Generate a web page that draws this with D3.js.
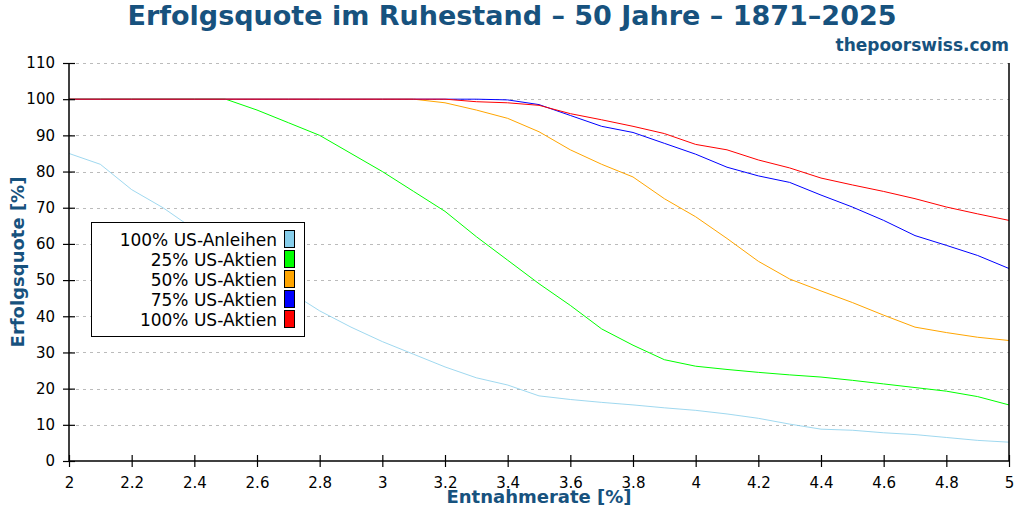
<!DOCTYPE html>
<html><head><meta charset="utf-8">
<script src="https://cdn.jsdelivr.net/npm/d3@7"></script>
<style>body{margin:0;background:#fff}svg{font-family:"DejaVu Sans",sans-serif}</style>
</head><body><svg></svg>
<script>
let rates = d3.range(31).map(i => +(2 + i * 0.1).toFixed(1))
let bonds = [85,82,75,70,64,58,52,47,41.5,37,33,29.5,26,23,21,18,17,16.2,15.5,14.7,14,13,11.8,10.2,8.8,8.5,7.8,7.3,6.5,5.7,5.2]
let stocks25 = [100,100,100,100,100,100,97,93.5,90,85,80,74.5,69,62,55.5,49,43,36.5,32,28,26.2,25.3,24.5,23.8,23.2,22.3,21.3,20.3,19.3,17.8,15.5]
let stocks50 = [100,100,100,100,100,100,100,100,100,100,100,100,99,97,94.7,91,86,82,78.5,72.5,67.5,61.5,55.2,50.3,47,43.8,40.3,37,35.5,34.2,33.3]
let stocks75 = [100,100,100,100,100,100,100,100,100,100,100,100,100,100,99.8,98.5,95.5,92.5,90.8,87.8,84.8,81.2,78.8,77,73.5,70.2,66.5,62.3,59.6,56.8,53.2]
let stocks100 = [100,100,100,100,100,100,100,100,100,100,100,100,100,99.3,99,98.3,96,94.3,92.5,90.5,87.5,86,83.2,81,78.2,76.3,74.5,72.5,70.2,68.3,66.5]
let names = ['100% US-Anleihen','25% US-Aktien','50% US-Aktien','75% US-Aktien','100% US-Aktien']
let colors = ['#87ceeb','#00ff00','#ffa500','#0000ff','#ff0000']
let series = [bonds, stocks25, stocks50, stocks75, stocks100]
let xTicks = [2,2.2,2.4,2.6,2.8,3,3.2,3.4,3.6,3.8,4,4.2,4.4,4.6,4.8,5]
let yTicks = d3.range(0, 111, 10)

let width = 1024, height = 512
let padLeft = 69, padRight = 1009, padTop = 63, padBottom = 461
let svg = d3.select('svg').attr('width', width).attr('height', height)

let xScale = d3.scaleLinear().domain([2, 5]).range([padLeft, padRight])
let yScale = d3.scaleLinear().domain([0, 110]).range([padBottom, padTop])

//grid
svg.append('g').selectAll('line').data(yTicks.slice(1)).enter().append('line')
    .attr('x1', padLeft).attr('x2', padRight)
    .attr('y1', d => Math.round(yScale(d)) + 0.5).attr('y2', d => Math.round(yScale(d)) + 0.5)
    .attr('stroke', '#bbb').attr('stroke-dasharray', '3,4')

//lines
let line = d3.line().x((d, i) => xScale(rates[i])).y(d => yScale(d))
series.forEach((s, k) => {
    svg.append('path').datum(s).attr('d', line)
        .attr('fill', 'none').attr('stroke', colors[k]).attr('stroke-width', k == 0 ? 0.8 : 1)
})

//axes
let xAxis = d3.axisBottom(xScale).tickValues(xTicks).tickSize(6).tickPadding(10).tickFormat(d3.format('~g'))
let yAxis = d3.axisLeft(yScale).tickValues(yTicks).tickSize(6).tickPadding(8)
let gx = svg.append('g').attr('transform', 'translate(0,' + padBottom + ')').call(xAxis)
let gy = svg.append('g').attr('transform', 'translate(' + padLeft + ',0)').call(yAxis)
;[gx, gy].forEach(g => {
    g.select('.domain').remove()
    g.selectAll('text').attr('font-size', 15).attr('fill', '#000').attr('font-family', 'DejaVu Sans')
    g.selectAll('line').attr('stroke', '#000').attr('stroke-width', 1.2)
})
gx.selectAll('.tick line').attr('y2', 6).attr('y1', -6)
gy.selectAll('.tick line').attr('x2', 6).attr('x1', -6)
svg.append('line').attr('x1', padLeft).attr('x2', padRight).attr('y1', padBottom).attr('y2', padBottom).attr('stroke', '#000').attr('stroke-width', 1.5)
svg.append('line').attr('x1', padLeft).attr('x2', padLeft).attr('y1', padTop).attr('y2', padBottom).attr('stroke', '#000').attr('stroke-width', 1.5)
svg.append('line').attr('x1', padRight).attr('x2', padRight).attr('y1', padTop).attr('y2', padBottom).attr('stroke', '#000').attr('stroke-width', 1.5)

//titles
let blue = '#17527e'
svg.append('text').attr('x', 512).attr('y', 25).attr('text-anchor', 'middle')
    .attr('font-size', 27).attr('font-weight', 'bold').attr('fill', blue)
    .text('Erfolgsquote im Ruhestand – 50 Jahre – 1871–2025')
svg.append('text').attr('x', 1009).attr('y', 51).attr('text-anchor', 'end')
    .attr('font-size', 17).attr('font-weight', 'bold').attr('fill', blue).text('thepoorswiss.com')
svg.append('text').attr('x', 539).attr('y', 503).attr('text-anchor', 'middle')
    .attr('font-size', 18).attr('font-weight', 'bold').attr('fill', blue).text('Entnahmerate [%]')
svg.append('text').attr('transform', 'translate(24,262) rotate(-90)').attr('text-anchor', 'middle')
    .attr('font-size', 18).attr('font-weight', 'bold').attr('fill', blue).text('Erfolgsquote [%]')

//legend
let lg = svg.append('g')
lg.append('rect').attr('x', 91.5).attr('y', 222.5).attr('width', 213).attr('height', 114)
    .attr('fill', '#fff').attr('stroke', '#000')
names.forEach((n, i) => {
    let y = 240 + i * 20
    lg.append('text').attr('x', 277).attr('y', y + 6).attr('text-anchor', 'end')
        .attr('font-size', 17).attr('fill', '#000').text(n)
    lg.append('rect').attr('x', 284.5).attr('y', y - 9.5).attr('width', 10).attr('height', 17)
        .attr('fill', colors[i]).attr('stroke', '#000')
})
</script></body></html>
